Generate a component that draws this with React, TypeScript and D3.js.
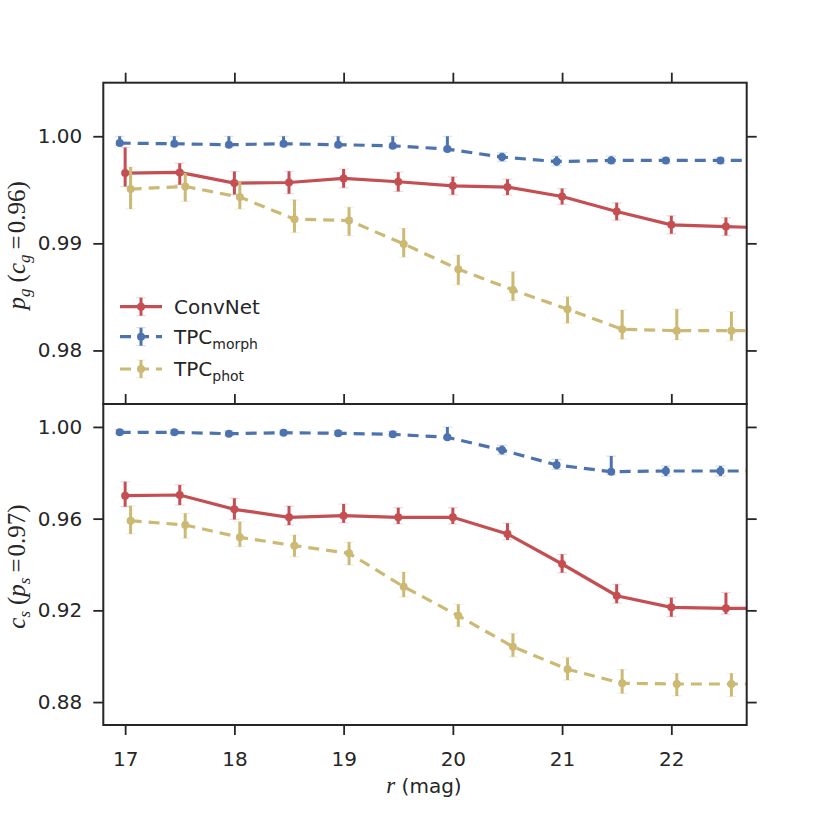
import { useEffect, useRef } from "react"
import * as d3 from "d3"

// r-band magnitude bins (the last bin sits beyond the axis and is clipped)
const magBins = [17, 17.5, 18, 18.5, 19, 19.5, 20, 20.5, 21, 21.5, 22, 22.5, 23]
const xTicks = [17, 18, 19, 20, 21, 22]

// top panel: galaxy purity p_g at completeness c_g = 0.96
const convnetPg = [0.99656, 0.99662, 0.99563, 0.99568, 0.99606, 0.99575, 0.99537, 0.99525, 0.99437, 0.99297, 0.99173, 0.99157, 0.9914]
const convnetPgUp = [0.0024, 0.00087, 0.00108, 0.00105, 0.00088, 0.0009, 0.00084, 0.00074, 0.00074, 0.00081, 0.00084, 0.00084, 0.00084]
const convnetPgDown = [0.00125, 0.00114, 0.00108, 0.00105, 0.00088, 0.0009, 0.00084, 0.00074, 0.00074, 0.00081, 0.00084, 0.00084, 0.00084]
const morphPg = [0.99936, 0.9993, 0.99921, 0.9993, 0.99921, 0.99911, 0.9988, 0.99806, 0.99764, 0.99774, 0.99774, 0.99774, 0.99774]
const morphPgUp = [0.00064, 0.0007, 0.00079, 0.0007, 0.00079, 0.00089, 0.0012, 0.0004, 0.0005, 0.0004, 0.0003, 0.0003, 0.0003]
const morphPgDown = [0.0002, 0.0002, 0.0002, 0.0002, 0.0002, 0.0002, 0.0002, 0.0004, 0.0004, 0.0003, 0.0003, 0.0003, 0.0003]
const photPg = [0.99507, 0.99531, 0.99432, 0.99226, 0.99213, 0.98995, 0.98759, 0.98565, 0.98385, 0.98198, 0.98185, 0.98185, 0.98185]
const photPgUp = [0.00205, 0.00125, 0.00145, 0.0018, 0.00125, 0.00146, 0.00133, 0.0017, 0.00117, 0.0018, 0.002, 0.00177, 0.00177]
const photPgDown = [0.00186, 0.0014, 0.00112, 0.00125, 0.00142, 0.00124, 0.00146, 0.001, 0.0013, 0.00093, 0.00087, 0.00093, 0.00093]

// bottom panel: star completeness c_s at purity p_s = 0.97
const convnetCs = [0.97, 0.97031, 0.96407, 0.96059, 0.96128, 0.96059, 0.96059, 0.9533, 0.94022, 0.92639, 0.92133, 0.9209, 0.9209]
const convnetCsUp = [0.0061, 0.0044, 0.0048, 0.0049, 0.0051, 0.0042, 0.0042, 0.0047, 0.0042, 0.005, 0.0042, 0.0068, 0.0068]
const convnetCsDown = [0.0048, 0.0044, 0.0044, 0.0034, 0.0031, 0.0029, 0.0029, 0.0026, 0.0038, 0.0033, 0.0041, 0.0025, 0.0025]
const morphCs = [0.99765, 0.99765, 0.99704, 0.99748, 0.99722, 0.99678, 0.99547, 0.98994, 0.98339, 0.98047, 0.98078, 0.98078, 0.98078]
const morphCsUp = [0.0012, 0.0012, 0.0012, 0.0012, 0.0012, 0.0013, 0.0045, 0.002, 0.0025, 0.0068, 0.0022, 0.0022, 0.0022]
const morphCsDown = [0.0008, 0.0008, 0.0008, 0.0008, 0.0008, 0.0008, 0.0008, 0.002, 0.0019, 0.0013, 0.0022, 0.0022, 0.0022]
const photCs = [0.9591, 0.95723, 0.95186, 0.9482, 0.94488, 0.93032, 0.91767, 0.90415, 0.89429, 0.88819, 0.88788, 0.88788, 0.88788]
const photCsUp = [0.0065, 0.0051, 0.0068, 0.0047, 0.0049, 0.0064, 0.005, 0.0058, 0.0052, 0.0061, 0.0047, 0.0047, 0.0047]
const photCsDown = [0.0058, 0.0058, 0.0041, 0.0048, 0.0051, 0.0045, 0.0048, 0.0044, 0.0047, 0.0044, 0.0052, 0.0055, 0.0055]

const pgTicks = [0.98, 0.99, 1.0]
const csTicks = [0.88, 0.92, 0.96, 1.0]

const seriesNames = ["ConvNet", "TPC", "TPC"]
const seriesSubs = ["", "morph", "phot"]
const seriesColors = ["#C44E52", "#4C72B0", "#CCB974"]
const seriesDashed = [false, true, true]
const seriesShift = [0, -0.05, 0.05]

export default function App() {
  const svgRef = useRef<SVGSVGElement>(null)

  useEffect(() => {
    if (!svgRef.current) return

    const svg = d3.select(svgRef.current)
    svg.selectAll("*").remove()

    const ink = "#262626"
    const sans = "DejaVu Sans"
    const serif = "Liberation Serif"
    const left = 103.3
    const right = 746.7

    const x = d3.scaleLinear().domain([16.8, 22.69]).range([left, right])

    const panels = [
      {
        top: 82.7,
        bottom: 404,
        domain: [0.975, 1.005],
        ticks: pgTicks,
        values: [convnetPg, morphPg, photPg],
        ups: [convnetPgUp, morphPgUp, photPgUp],
        downs: [convnetPgDown, morphPgDown, photPgDown],
        label: ["p", "g", "c", "g", "0.96"],
      },
      {
        top: 404,
        bottom: 725,
        domain: [0.87, 1.01],
        ticks: csTicks,
        values: [convnetCs, morphCs, photCs],
        ups: [convnetCsUp, morphCsUp, photCsUp],
        downs: [convnetCsDown, morphCsDown, photCsDown],
        label: ["c", "s", "p", "s", "0.97"],
      },
    ]

    const defs = svg.append("defs")

    panels.forEach((p, pi) => {
      const y = d3.scaleLinear().domain(p.domain).range([p.bottom, p.top])

      defs
        .append("clipPath")
        .attr("id", `panel-clip-${pi}`)
        .append("rect")
        .attr("x", left)
        .attr("y", p.top)
        .attr("width", right - left)
        .attr("height", p.bottom - p.top)

      const g = svg.append("g").attr("clip-path", `url(#panel-clip-${pi})`)

      p.values.forEach((vals, si) => {
        const color = seriesColors[si]
        const pts = magBins.map((m, i) => ({
          m: m + seriesShift[si],
          v: vals[i],
          hi: vals[i] + p.ups[si][i],
          lo: vals[i] - p.downs[si][i],
        }))

        const line = d3
          .line<{ m: number; v: number }>()
          .x((d) => x(d.m))
          .y((d) => y(d.v))

        g.append("path")
          .datum(pts)
          .attr("d", line)
          .attr("fill", "none")
          .attr("stroke", color)
          .attr("stroke-width", 3.2)
          .attr("stroke-dasharray", seriesDashed[si] ? "11,7" : null)

        // faint caps
        const caps = pts.flatMap((d) => [d.hi, d.lo].map((e) => ({ m: d.m, e })))
        g.append("g")
          .selectAll("line")
          .data(caps)
          .join("line")
          .attr("x1", (d) => x(d.m) - 5)
          .attr("x2", (d) => x(d.m) + 5)
          .attr("y1", (d) => y(d.e))
          .attr("y2", (d) => y(d.e))
          .attr("stroke", color)
          .attr("stroke-opacity", 0.22)
          .attr("stroke-width", 1.2)

        g.append("g")
          .selectAll("line")
          .data(pts)
          .join("line")
          .attr("x1", (d) => x(d.m))
          .attr("x2", (d) => x(d.m))
          .attr("y1", (d) => y(d.lo))
          .attr("y2", (d) => y(d.hi))
          .attr("stroke", color)
          .attr("stroke-width", 3)

        g.append("g")
          .selectAll("circle")
          .data(pts)
          .join("circle")
          .attr("cx", (d) => x(d.m))
          .attr("cy", (d) => y(d.v))
          .attr("r", 4)
          .attr("fill", color)
      })

      // axes, ticks pointing outward
      const styleAxis = (ax: d3.Selection<SVGGElement, unknown, null, undefined>) => {
        ax.select(".domain").remove()
        ax.selectAll(".tick line").attr("stroke", ink).attr("stroke-width", 1.8)
        ax.selectAll(".tick text").attr("fill", ink)
        ax.attr("font-family", sans).attr("font-size", 20)
      }

      const yAxis = svg
        .append("g")
        .attr("transform", `translate(${left},0)`)
        .call(
          d3
            .axisLeft(y)
            .tickValues(p.ticks)
            .tickSize(10)
            .tickPadding(11)
            .tickFormat(d3.format(".2f") as any)
        )
      styleAxis(yAxis)

      const yAxisRight = svg
        .append("g")
        .attr("transform", `translate(${right},0)`)
        .call(d3.axisRight(y).tickValues(p.ticks).tickSize(10).tickFormat(() => ""))
      styleAxis(yAxisRight)

      const xAxisTop = svg
        .append("g")
        .attr("transform", `translate(0,${p.top})`)
        .call(d3.axisTop(x).tickValues(xTicks).tickSize(10).tickFormat(() => ""))
      styleAxis(xAxisTop)

      if (pi === 1) {
        const xAxis = svg
          .append("g")
          .attr("transform", `translate(0,${p.bottom})`)
          .call(d3.axisBottom(x).tickValues(xTicks).tickSize(10).tickPadding(17).tickFormat(d3.format("d") as any))
        styleAxis(xAxis)
      }

      svg
        .append("rect")
        .attr("x", left)
        .attr("y", p.top)
        .attr("width", right - left)
        .attr("height", p.bottom - p.top)
        .attr("fill", "none")
        .attr("stroke", ink)
        .attr("stroke-width", 2)

      // y label, math style
      const [v1, s1, v2, s2, num] = p.label
      const lab = svg
        .append("text")
        .attr("transform", `translate(25,${(p.top + p.bottom) / 2 + 2}) rotate(-90)`)
        .attr("text-anchor", "middle")
        .attr("font-family", serif)
        .attr("font-size", 25)
        .attr("fill", ink)
      lab.append("tspan").attr("font-style", "italic").text(v1)
      lab.append("tspan").attr("font-style", "italic").attr("font-size", 17).attr("dy", 5).text(s1)
      lab.append("tspan").attr("dy", -5).attr("dx", 6).text("(")
      lab.append("tspan").attr("font-style", "italic").text(v2)
      lab.append("tspan").attr("font-style", "italic").attr("font-size", 17).attr("dy", 5).text(s2)
      lab.append("tspan").attr("dy", -5).attr("dx", 5).text("=")
      lab.append("tspan").attr("dx", 2).text(`${num})`)
    })

    // legend in the top panel
    const legendY = [306.7, 336.7, 369]
    const legend = svg.append("g")
    seriesNames.forEach((name, i) => {
      const ly = legendY[i]
      const color = seriesColors[i]
      legend
        .append("line")
        .attr("x1", 120)
        .attr("x2", 162)
        .attr("y1", ly)
        .attr("y2", ly)
        .attr("stroke", color)
        .attr("stroke-width", 3.2)
        .attr("stroke-dasharray", seriesDashed[i] ? "11,7" : null)
      ;[ly - 9, ly + 9].forEach((cy) =>
        legend
          .append("line")
          .attr("x1", 136)
          .attr("x2", 146)
          .attr("y1", cy)
          .attr("y2", cy)
          .attr("stroke", color)
          .attr("stroke-opacity", 0.22)
          .attr("stroke-width", 1.2)
      )
      legend
        .append("line")
        .attr("x1", 141)
        .attr("x2", 141)
        .attr("y1", ly - 9)
        .attr("y2", ly + 9)
        .attr("stroke", color)
        .attr("stroke-width", 3)
      legend.append("circle").attr("cx", 141).attr("cy", ly).attr("r", 4).attr("fill", color)

      const t = legend
        .append("text")
        .attr("x", 174)
        .attr("y", ly + 7)
        .attr("font-family", sans)
        .attr("font-size", 20)
        .attr("fill", ink)
      t.append("tspan").text(name)
      if (seriesSubs[i]) t.append("tspan").attr("font-size", 14).attr("dy", 5).text(seriesSubs[i])
    })

    // x label
    const xl = svg
      .append("text")
      .attr("x", 424)
      .attr("y", 793)
      .attr("text-anchor", "middle")
      .attr("font-family", sans)
      .attr("font-size", 20)
      .attr("fill", ink)
    xl.append("tspan").attr("font-family", serif).attr("font-style", "italic").attr("font-size", 23).text("r")
    xl.append("tspan").text(" (mag)")
  }, [])

  return (
    <svg
      ref={svgRef}
      width={830}
      height={830}
      style={{ position: "absolute", left: 0, top: 0, background: "#fff" }}
    />
  )
}
